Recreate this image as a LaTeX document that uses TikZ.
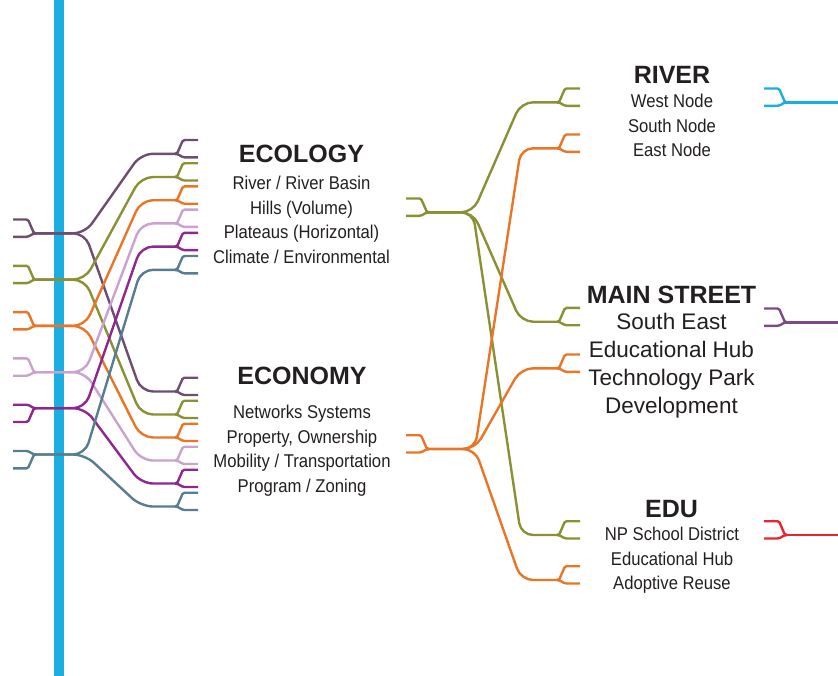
\documentclass[tikz,border=0pt]{standalone}
\usepackage{fontspec}
\setmainfont{Liberation Sans}
\newfontfamily\condfont{Liberation Sans}[FakeStretch=0.9]
\usetikzlibrary{positioning}
\definecolor{mplum}{RGB}{110,78,112}
\definecolor{molive}{RGB}{138,145,52}
\definecolor{morange}{RGB}{232,118,38}
\definecolor{mlilac}{RGB}{201,162,205}
\definecolor{mgrape}{RGB}{142,40,142}
\definecolor{mslate}{RGB}{88,125,145}
\definecolor{mcyan}{RGB}{26,175,224}
\definecolor{mred}{RGB}{232,38,46}
\definecolor{mviolet}{RGB}{126,74,134}
\definecolor{mtext}{RGB}{35,31,32}
\tikzset{route/.style = {line width = 2.4, rounded corners = 12}}
\tikzset{forkline/.style = {line width = 2.4, rounded corners = 1.5}}
\tikzset{title/.style = {font = \bfseries\fontsize{25}{30}\selectfont, text = mtext, inner sep = 0, anchor = base}}
\tikzset{item/.style = {font = \condfont\fontsize{18.5}{22}\selectfont, text = mtext, inner sep = 0, anchor = base}}
\tikzset{bigitem/.style = {font = \fontsize{22.5}{27}\selectfont, text = mtext, inner sep = 0, anchor = base}}
% #1 name, #2 colour, #3 x, #4 y of the stem end, #5 prong side (1 right, -1 left), #6 far prong (1 up, -1 down)
\newcommand{\drawfork}[6]{%
  \coordinate (#1) at (#3, {#4});
  \draw [forkline, #2] (#1) ++({-(#5)*2}, 0) -- (#1) -- ++({(#5)*6}, {-(#6)*13.8}) -- ++({(#5)*15}, 0);
  \draw [forkline, #2] (#1) ++({-(#5)*2}, 0) -- (#1) -- ++({(#5)*6}, {(#6)*3.5}) -- ++({(#5)*15}, 0);
}

\begin{document}
\begin{tikzpicture}[x=1pt, y=-1pt]
  \useasboundingbox (0, 0) rectangle (838, 675);
  \fill [mcyan] (54.3, -2) rectangle (64.3, 677);

  % left side: six lines, each split towards ecology and economy
  \foreach \col/\yl/\s [count=\i] in {mplum/233.3/1, molive/279.6/1, morange/325.9/1,
                                       mlilac/372.2/1, mgrape/408.2/-1, mslate/454.5/-1} {
    \drawfork{lf\i}{\col}{34}{\yl}{-1}{\s}
    \drawfork{eco\i}{\col}{177}{153.8+23.2*(\i-1)}{1}{1}
    \drawfork{ecn\i}{\col}{177}{391.5+23*(\i-1)}{1}{1}
    \draw [route, \col] (lf\i) -- ++(51, 0) -- ([xshift=-36]eco\i) -- (eco\i);
    \draw [route, \col] (lf\i) -- ++(51, 0) -- ([xshift=-36]ecn\i) -- (ecn\i);
  }

  % middle
  \drawfork{ecoOut}{molive}{427}{212.3}{-1}{1}
  \drawfork{ecnOut}{morange}{427}{449}{-1}{1}
  \drawfork{riverW}{molive}{559}{102.3}{1}{1}
  \drawfork{riverE}{morange}{559}{148.3}{1}{1}
  \drawfork{mainS}{molive}{559}{321.7}{1}{1}
  \drawfork{mainE}{morange}{559}{368.3}{1}{1}
  \drawfork{eduN}{molive}{559}{535}{1}{1}
  \drawfork{eduA}{morange}{559}{580}{1}{1}
  \foreach \t in {riverW, mainS, eduN}
    \draw [route, molive] (ecoOut) -- ++(46, 0) -- ([xshift=-38]\t) -- (\t);
  \foreach \t in {riverE, mainE, eduA}
    \draw [route, morange] (ecnOut) -- ++(48, 0) -- ([xshift=-38]\t) -- (\t);

  % right side
  \drawfork{riverOut}{mcyan}{785}{102.3}{-1}{1}
  \drawfork{mainOut}{mviolet}{785}{322.3}{-1}{1}
  \drawfork{eduOut}{mred}{785}{535}{-1}{1}
  \coordinate (riverEnd) at (840, 102.3);
  \coordinate (mainEnd) at (840, 322.3);
  \coordinate (eduEnd) at (840, 535);
  \draw [route, mcyan] (riverOut) -- (riverEnd);
  \draw [route, mviolet] (mainOut) -- (mainEnd);
  \draw [route, mred] (eduOut) -- (eduEnd);

  % texts
  \node [title] (ecology) at (301.5, 162) {ECOLOGY};
  \foreach \t [count=\k] in {River / River Basin, Hills (Volume), Plateaus (Horizontal), Climate / Environmental}
    \node [item] (ecology\k) at (301.5, {189.5+24.7*(\k-1)}) {\t};
  \node [title] (economy) at (302, 384) {ECONOMY};
  \foreach \t [count=\k] in {Networks Systems, {Property, Ownership}, Mobility / Transportation, Program / Zoning}
    \node [item] (economy\k) at (302, {418.5+24.7*(\k-1)}) {\t};
  \node [title] (river) at (672, 83) {RIVER};
  \foreach \t [count=\k] in {West Node, South Node, East Node}
    \node [item] (river\k) at (672, {107.5+24.7*(\k-1)}) {\t};
  \node [title] (main) at (671.5, 303) {MAIN STREET};
  \foreach \t [count=\k] in {South East, Educational Hub, Technology Park, Development}
    \node [bigitem] (main\k) at (671.5, {329+28*(\k-1)}) {\t};
  \node [title] (edu) at (671.5, 517) {EDU};
  \foreach \t [count=\k] in {NP School District, Educational Hub, Adoptive Reuse}
    \node [item] (edu\k) at (672, {540.5+24.7*(\k-1)}) {\t};
\end{tikzpicture}
\end{document}
